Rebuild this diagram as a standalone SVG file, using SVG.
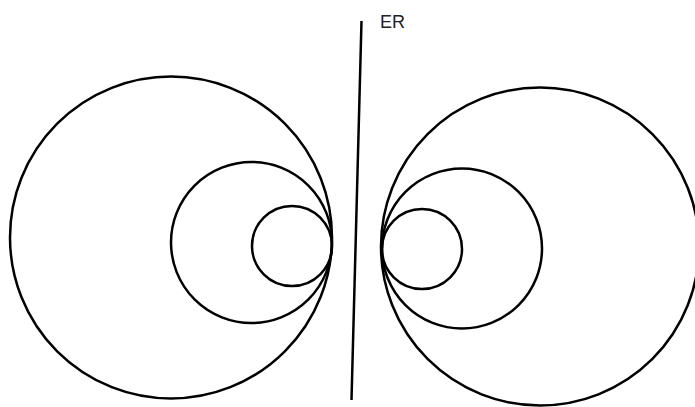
<svg xmlns="http://www.w3.org/2000/svg" width="695" height="407" viewBox="0 0 695 407">
<style>
.c{fill:none;stroke:#000;stroke-width:2.5}
.t{font-family:"Liberation Sans",Arial,sans-serif;font-size:18px;fill:#222}
</style>
<rect width="695" height="407" fill="#fff"/>
<g id="connectors">
<line class="c" x1="361.5" y1="21" x2="351.5" y2="400"/>
</g>
<g id="label-ER"><text class="t" x="380" y="28">ER</text></g>
<g id="left-large"><circle class="c" cx="171" cy="237.5" r="161"/></g>
<g id="left-medium"><circle class="c" cx="251.5" cy="242.5" r="80.5"/></g>
<g id="left-small"><circle class="c" cx="292" cy="246" r="40"/></g>
<g id="right-large"><circle class="c" cx="540" cy="246.5" r="159"/></g>
<g id="right-medium"><circle class="c" cx="462" cy="248.5" r="80"/></g>
<g id="right-small"><circle class="c" cx="422" cy="249" r="40"/></g>
</svg>
